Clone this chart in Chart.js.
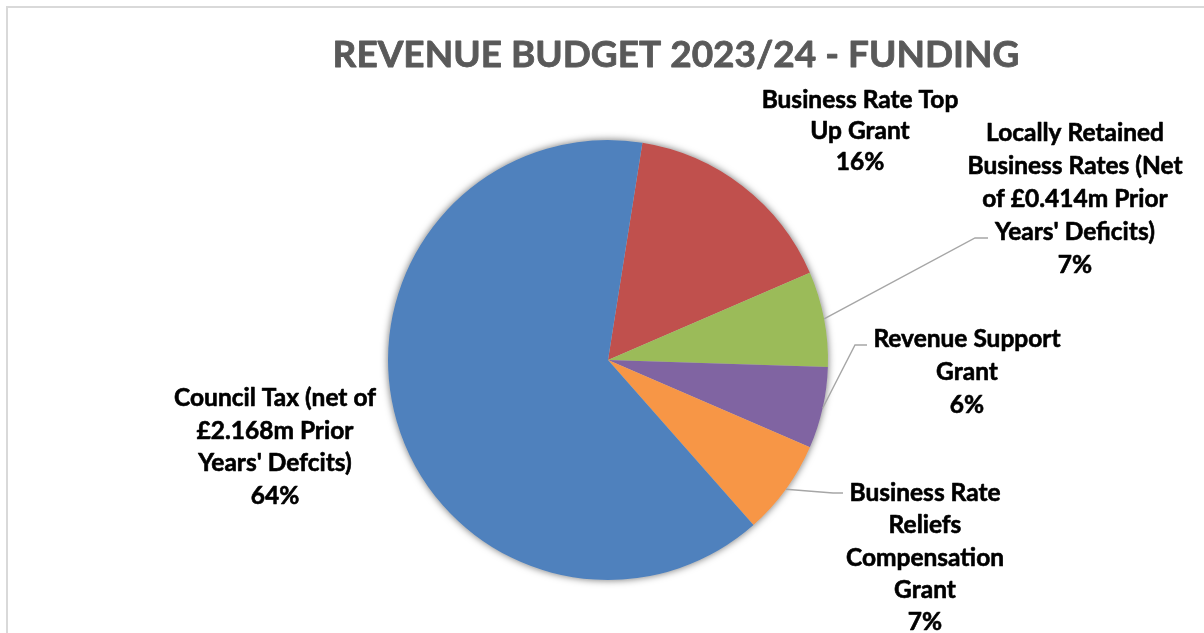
<!DOCTYPE html>
<html>
<head>
<meta charset="utf-8">
<title>Revenue Budget 2023/24 - Funding</title>
<script src="https://cdn.jsdelivr.net/npm/chart.js@4.4.1/dist/chart.umd.min.js"></script>
<style>
  html, body { margin: 0; padding: 0; background: #ffffff; }
  #wrap { width: 1204px; height: 633px; position: relative; }
</style>
</head>
<body>
<div id="wrap"><canvas id="chart" width="1204" height="633"></canvas></div>
<script>
// Funding sources, clockwise from the top
const categories = [
  'Business Rate Top Up Grant',
  "Locally Retained Business Rates (Net of £0.414m Prior Years' Deficits)",
  'Revenue Support Grant',
  'Business Rate Reliefs Compensation Grant',
  "Council Tax (net of £2.168m Prior Years' Defcits)"
];
// Share of total funding, percent
const shares = [16, 7, 6, 7, 64];
// Wrapped label lines for each category
const labelLines = [
  ['Business Rate Top', 'Up Grant'],
  ['Locally Retained', 'Business Rates (Net', 'of £0.414m Prior', "Years' Deficits)"],
  ['Revenue Support', 'Grant'],
  ['Business Rate', 'Reliefs', 'Compensation', 'Grant'],
  ['Council Tax (net of', '£2.168m Prior', "Years' Defcits)"]
];
const sliceColours = ['#C0504D', '#9BBB59', '#8064A2', '#F79646', '#4F81BD'];

const FONT = 'Lato, "Open Sans", "DejaVu Sans", sans-serif';

// Label placement: text block centre (x, top line y), optional leader path
const labelLayout = [
  { x: 860, y: 100, lineH: 31, leader: null },
  { x: 1075, y: 133, lineH: 33, leader: [[975, 238], [988, 238]] },
  { x: 967, y: 339, lineH: 33, leader: [[855, 345], [867, 345]] },
  { x: 925, y: 493, lineH: 32.3, leader: [[833, 493], [843, 493]] },
  { x: 275, y: 398, lineH: 32.7, leader: null }
];

const frameAndShadow = {
  id: 'frameAndShadow',
  beforeDraw(chart) {
    const ctx = chart.ctx;
    ctx.save();
    ctx.fillStyle = '#ffffff';
    ctx.fillRect(0, 0, chart.width, chart.height);
    ctx.strokeStyle = '#d9d9d9';
    ctx.lineWidth = 2;
    ctx.strokeRect(7, 7, chart.width + 20, chart.height + 20);
    ctx.restore();
  },
  beforeDatasetsDraw(chart) {
    const arc = chart.getDatasetMeta(0).data[0];
    if (!arc) return;
    const { x, y, outerRadius } = arc.getProps(['x', 'y', 'outerRadius'], true);
    const ctx = chart.ctx;
    ctx.save();
    ctx.shadowColor = 'rgba(0,0,0,0.5)';
    ctx.shadowBlur = 7;
    ctx.shadowOffsetX = 0;
    ctx.shadowOffsetY = 0;
    ctx.fillStyle = '#c4c4c4';
    ctx.beginPath();
    ctx.arc(x, y, outerRadius + 0.5, 0, Math.PI * 2);
    ctx.fill();
    ctx.restore();
  }
};

function heavyText(ctx, text, x, y, colour, weight) {
  ctx.fillStyle = colour;
  ctx.strokeStyle = colour;
  ctx.lineWidth = weight;
  ctx.lineJoin = 'round';
  ctx.strokeText(text, x, y);
  ctx.fillText(text, x, y);
}

const titleAndLabels = {
  id: 'titleAndLabels',
  afterDatasetsDraw(chart) {
    const ctx = chart.ctx;
    ctx.save();
    // Title
    ctx.font = 'bold 37px ' + FONT;
    ctx.textAlign = 'center';
    ctx.textBaseline = 'middle';
    heavyText(ctx, 'REVENUE BUDGET 2023/24 - FUNDING', 676, 55, '#595959', 0.8);

    const meta = chart.getDatasetMeta(0);
    meta.data.forEach((arc, i) => {
      const p = arc.getProps(['x', 'y', 'startAngle', 'endAngle', 'outerRadius'], true);
      const mid = (p.startAngle + p.endAngle) / 2;
      const lay = labelLayout[i];
      if (lay.leader) {
        ctx.strokeStyle = '#a6a6a6';
        ctx.lineWidth = 1.4;
        ctx.lineJoin = 'miter';
        ctx.beginPath();
        ctx.moveTo(p.x + Math.cos(mid) * p.outerRadius, p.y + Math.sin(mid) * p.outerRadius);
        lay.leader.forEach(pt => ctx.lineTo(pt[0], pt[1]));
        ctx.stroke();
      }
      const lines = labelLines[i].concat([shares[i] + '%']);
      ctx.font = 'bold 24.5px ' + FONT;
      ctx.textAlign = 'center';
      ctx.textBaseline = 'middle';
      lines.forEach((t, k) => heavyText(ctx, t, lay.x, lay.y + k * lay.lineH, '#000000', 0.6));
    });
    ctx.restore();
  }
};

new Chart(document.getElementById('chart'), {
  type: 'pie',
  data: {
    labels: categories,
    datasets: [{
      data: shares,
      backgroundColor: sliceColours,
      borderWidth: 0,
      hoverOffset: 0
    }]
  },
  options: {
    responsive: false,
    animation: false,
    rotation: 9,
    layout: { padding: { top: 140, bottom: 53, left: 388, right: 376 } },
    plugins: {
      legend: { display: false },
      tooltip: { enabled: false },
      title: { display: false }
    },
    events: []
  },
  plugins: [frameAndShadow, titleAndLabels]
});
</script>
</body>
</html>
